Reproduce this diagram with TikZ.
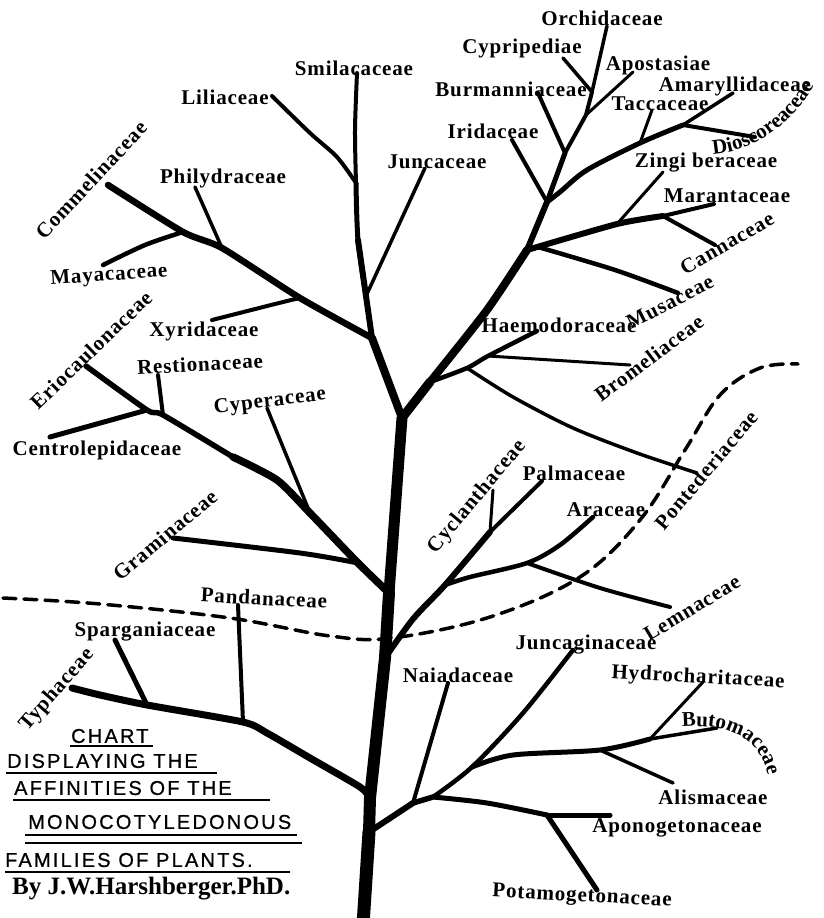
\documentclass[tikz,border=0pt]{standalone}
\usepackage{fontspec}
\setmainfont{Liberation Serif}
\newfontfamily\ttlfont[LetterSpace=11,FakeBold=0.8]{Liberation Sans}
\usetikzlibrary{decorations.text}
\tikzset{
  br/.style={line width=#1, line cap=round, line join=round},
  lbl/.style={font=\fontsize{21}{23}\selectfont\bfseries\addfontfeature{LetterSpace=4}, inner sep=0pt},
  ttl/.style={font=\ttlfont\fontsize{20}{22}\selectfont, inner sep=0pt, anchor=west},
  uline/.style={line width=2.5pt},
  divide/.style={line width=3.5pt, dash pattern=on 13pt off 8pt, line cap=round},
}
\begin{document}
\begin{tikzpicture}[x=1pt,y=-1pt]
\useasboundingbox (0,0) rectangle (824,918);
% ---------- coordinates ----------
% trunk
\coordinate (t0) at (363,925);
\coordinate (tA) at (369,832);
\coordinate (tB) at (370,798);
\coordinate (tC) at (385,658);
\coordinate (tD) at (389,593);
\coordinate (tE) at (402,418);
% upper left
\coordinate (L1) at (372,338);
\coordinate (L2) at (366,296);
\coordinate (L3) at (356,183);
\coordinate (Lend) at (357,73);
\coordinate (Jcend) at (425,168);
\coordinate (Liend) at (272,96);
% Commelinaceae group
\coordinate (C1) at (300,298);
\coordinate (C2) at (222,248);
\coordinate (C3) at (183,232);
\coordinate (Cend) at (108,185);
\coordinate (Xyend) at (212,320);
\coordinate (Phend) at (195,187);
\coordinate (Maend) at (103,265);
% right main
\coordinate (R1) at (430,382);
\coordinate (R2) at (487,310);
\coordinate (R3) at (527,250);
\coordinate (R4) at (547,202);
\coordinate (R5) at (565,153);
\coordinate (R6) at (586,115);
\coordinate (R7) at (592,92);
\coordinate (Rend) at (607,26);
\coordinate (Irend) at (512,140);
\coordinate (Buend) at (538,93);
\coordinate (Apend) at (633,72);
\coordinate (Cyend) at (563,58);
% Amaryllidaceae group
\coordinate (A0) at (560,192);
\coordinate (A1) at (640,143);
\coordinate (A2) at (683,125);
\coordinate (Aend) at (733,93);
\coordinate (Taend) at (652,110);
\coordinate (Diend) at (755,137);
% Marantaceae group
\coordinate (R3b) at (538,247);
\coordinate (Z1) at (617,224);
\coordinate (Z2) at (663,216);
\coordinate (Mend) at (714,204);
\coordinate (Ziend) at (663,172);
\coordinate (Caend) at (715,245);
\coordinate (Muend) at (678,293);
% Haemodoraceae group
\coordinate (H1) at (467,368);
\coordinate (H2) at (488,356);
\coordinate (Hend) at (537,331);
\coordinate (Brend) at (630,365);
\coordinate (Poend) at (697,473);
% Graminaceae group
\coordinate (G1) at (358,563);
\coordinate (G2) at (310,513);
\coordinate (G3) at (233,457);
\coordinate (G4) at (163,415);
\coordinate (G5) at (147,410);
\coordinate (Gend) at (86,366);
\coordinate (Grend) at (173,538);
\coordinate (Cpend) at (267,408);
\coordinate (Reend) at (158,375);
\coordinate (Ceend) at (50,437);
% Typhaceae group
\coordinate (T1) at (267,733);
\coordinate (T2) at (243,722);
\coordinate (T3) at (147,705);
\coordinate (Tend) at (72,688);
\coordinate (Paend) at (238,605);
\coordinate (Spend) at (115,640);
% Palmaceae group
\coordinate (P1) at (445,585);
\coordinate (P2) at (490,532);
\coordinate (Pend) at (542,481);
\coordinate (P3) at (527,563);
\coordinate (Arend) at (593,517);
\coordinate (Leend) at (670,607);
\coordinate (Cyclend) at (493,490);
% Naiadaceae group
\coordinate (N1) at (413,803);
\coordinate (N2) at (433,797);
\coordinate (J1) at (472,767);
\coordinate (J2) at (523,713);
\coordinate (Jend) at (573,650);
\coordinate (Naend) at (448,683);
\coordinate (B1) at (600,750);
\coordinate (B2) at (650,739);
\coordinate (Bend) at (717,728);
\coordinate (Alend) at (673,783);
\coordinate (Hyend) at (703,682);
\coordinate (Ap1) at (547,815);
\coordinate (Apgend) at (610,815);
\coordinate (Ptend) at (597,890);
% curved label paths
\coordinate (DiS) at (713,154);
\coordinate (DiE) at (822,70);
\coordinate (BuS) at (682,727);
\coordinate (BuE) at (769,786);
% ---------- dashed divide ----------
\draw[divide] plot[smooth, tension=0.6] coordinates {(3,598) (100,604) (230,618) (330,636) (392,638) (490,617) (580,577) (640,520) (685,450) (720,395) (760,368) (798,364)};
% ---------- trunk ----------
\draw[br=13] (t0) -- (tA);
\draw[br=12] (tA) -- (tB) -- (tC) -- (tD);
\draw[br=11] (tD) -- (tE);
% ---------- upper left ----------
\draw[br=8] (tE) -- (L1);
\draw[br=6] plot[smooth] coordinates {(L1) (L2) (358,240)};
\draw[br=5] plot[smooth] coordinates {(L2) (358,240) (L3)};
\draw[br=4] plot[smooth] coordinates {(L3) (355,130) (Lend)};
\draw[br=3.5] (L2) -- (Jcend);
\draw[br=4] plot[smooth] coordinates {(L3) (337,157) (310,133) (Liend)};
\draw[br=6.5] plot[smooth, tension=0.4] coordinates {(L1) (C1) (C2) (C3) (Cend)};
\draw[br=4] plot[smooth] coordinates {(C1) (283,302) (Xyend)};
\draw[br=3.5] (C2) -- (Phend);
\draw[br=4.5] plot[smooth] coordinates {(C3) (145,245) (Maend)};
% ---------- right main ----------
\draw[br=9] (tE) -- (R1);
\draw[br=8] plot[smooth, tension=0.4] coordinates {(R1) (R2) (R3)};
\draw[br=6] (R3) -- (R4);
\draw[br=5] (R4) -- (R5);
\draw[br=4] (R5) -- (R6) -- (R7);
\draw[br=3.5] (R7) -- (Rend);
\draw[br=4] (R4) -- (Irend);
\draw[br=4] (R5) -- (Buend);
\draw[br=3] (R6) -- (Apend);
\draw[br=3.5] (R7) -- (Cyend);
\draw[br=5] plot[smooth, tension=0.5] coordinates {(R4) (A0) (587,170) (A1) (A2)};
\draw[br=3.5] (A2) -- (Aend);
\draw[br=3] (A1) -- (Taend);
\draw[br=4] (A2) -- (Diend);
\draw[br=6] plot[smooth, tension=0.4] coordinates {(R3) (Z1) (Z2)};
\draw[br=4] (Z2) -- (Mend);
\draw[br=4.5] plot[smooth] coordinates {(R3b) (615,270) (Muend)};
\draw[br=3] (Z1) -- (Ziend);
\draw[br=4] (Z2) -- (Caend);
% Haemodoraceae group
\draw[br=4.5] plot[smooth] coordinates {(R1) (H1) (H2) (Hend)};
\draw[br=3] (H2) -- (Brend);
\draw[br=3.5] plot[smooth] coordinates {(H1) (513,397) (573,428) (637,453) (Poend)};
% ---------- Graminaceae group ----------
\draw[br=7.5] plot[smooth, tension=0.4] coordinates {(tD) (G1) (G2) (277,480) (G3)};
\draw[br=5.5] plot[smooth, tension=0.4] coordinates {(G3) (G4) (G5) (Gend)};
\draw[br=5] plot[smooth] coordinates {(G1) (300,553) (Grend)};
\draw[br=3.5] (G2) -- (Cpend);
\draw[br=4] (G4) -- (Reend);
\draw[br=5] (G5) -- (Ceend);
% ---------- Typhaceae group ----------
\draw[br=7] plot[smooth, tension=0.4] coordinates {(tB) (360,787) (310,758) (T1) (T2) (T3) (100,695) (Tend)};
\draw[br=4] (T2) -- (Paend);
\draw[br=5] (T3) -- (Spend);
% ---------- Palmaceae group ----------
\draw[br=6] plot[smooth, tension=0.5] coordinates {(tC) (413,619) (P1) (P2)};
\draw[br=4] (P2) -- (Pend);
\draw[br=3] (P2) -- (Cyclend);
\draw[br=4.5] plot[smooth] coordinates {(P1) (470,577) (P3) (560,545) (Arend)};
\draw[br=4] plot[smooth] coordinates {(P3) (600,588) (Leend)};
% ---------- Naiadaceae group ----------
\draw[br=6] (tA) -- (N1);
\draw[br=5.5] (N1) -- (N2);
\draw[br=4.5] plot[smooth] coordinates {(N2) (J1) (J2) (Jend)};
\draw[br=4] (N1) -- (Naend);
\draw[br=5] plot[smooth] coordinates {(J1) (513,755) (B1) (B2)};
\draw[br=3.5] (B2) -- (Bend);
\draw[br=3.5] (B1) -- (Alend);
\draw[br=3] (B2) -- (Hyend);
\draw[br=5] plot[smooth] coordinates {(N2) (487,803) (Ap1)};
\draw[br=5] (Ap1) -- (Apgend);
\draw[br=5] (Ap1) -- (Ptend);
% ---------- labels ----------
\node[lbl] (nOrch) at (602,18) {Orchidaceae};
\node[lbl] (nCypr) at (522,48) {Cypripediae};
\node[lbl] (nApos) at (658,65) {Apostasiae};
\node[lbl] (nBurm) at (511,89) {Burmanniaceae};
\node[lbl] (nAmar) at (735,86) {Amaryllidaceae};
\node[lbl] (nTacc) at (660,104) {Taccaceae};
\node[lbl] (nIrid) at (493,131) {Iridaceae};
\node[lbl] (nJunc) at (437,162) {Juncaceae};
\node[lbl] (nSmil) at (354,68) {Smilacaceae};
\node[lbl] (nLili) at (225,97) {Liliaceae};
\node[lbl, rotate=47] (nComm) at (91,180) {Commelinaceae};
\node[lbl] (nPhil) at (223,178) {Philydraceae};
\node[lbl, rotate=4] (nMaya) at (109,276) {Mayacaceae};
\node[lbl, rotate=44] (nErio) at (91,350) {Eriocaulonaceae};
\node[lbl] (nXyri) at (204,331) {Xyridaceae};
\node[lbl, rotate=3] (nRest) at (200,364) {Restionaceae};
\node[lbl] (nCent) at (97,450) {Centrolepidaceae};
\node[lbl, rotate=7] (nCype) at (270,402) {Cyperaceae};
\node[lbl, rotate=40] (nGram) at (165,535) {Graminaceae};
\node[lbl, rotate=-3] (nPand) at (264,598) {Pandanaceae};
\node[lbl] (nSpar) at (145,632) {Sparganiaceae};
\node[lbl, rotate=49] (nTyph) at (57,690) {Typhaceae};
\node[lbl] (nHaem) at (559,325) {Haemodoraceae};
\node[lbl, rotate=27] (nMusa) at (670,302) {Musaceae};
\node[lbl, rotate=30] (nCann) at (727,243) {Cannaceae};
\node[lbl] (nMara) at (727,196) {Marantaceae};
\node[lbl] (nZing) at (706,163) {Zingi beraceae};
\node[lbl, rotate=37] (nBrom) at (649,358) {Bromeliaceae};
\node[lbl, rotate=50] (nPont) at (706,470) {Pontederiaceae};
\node[lbl, rotate=50] (nCycl) at (477,497) {Cyclanthaceae};
\node[lbl] (nPalm) at (574,473) {Palmaceae};
\node[lbl] (nArac) at (606,510) {Araceae};
\node[lbl, rotate=31] (nLemn) at (692,608) {Lemnaceae};
\node[lbl] (nJncg) at (586,645) {Juncaginaceae};
\node[lbl] (nNaia) at (458,675) {Naiadaceae};
\node[lbl, rotate=-3] (nHydr) at (698,678) {Hydrocharitaceae};
\node[lbl] (nAlis) at (713,797) {Alismaceae};
\node[lbl] (nApon) at (677,828) {Aponogetonaceae};
\node[lbl, rotate=-3] (nPota) at (582,897) {Potamogetonaceae};
% curved labels
\path[decorate, decoration={text along path,
  text={|\fontsize{21}{23}\selectfont\bfseries|Dioscoreaceae}}]
  (DiS) .. controls (760,151) and (800,118) .. (DiE);
\path[decorate, decoration={text along path,
  text={|\fontsize{21}{23}\selectfont\bfseries|Butomaceae}}]
  (BuS) .. controls (732,723) and (766,740) .. (BuE);
% ---------- title block ----------
\node[ttl] (ti1) at (71,736) {CHART};
\node[ttl] (ti2) at (7,761) {DISPLAYING THE};
\node[ttl] (ti3) at (14,788) {AFFINITIES OF THE};
\node[ttl] (ti4) at (28,822) {MONOCOTYLEDONOUS};
\node[ttl] (ti5) at (5,860) {FAMILIES OF PLANTS.};
\node[inner sep=0pt, anchor=west, font=\fontsize{25}{27}\selectfont\bfseries] (ti6) at (12,889) {By J.W.Harshberger.PhD.};
\draw[uline] (70,746) -- (153,746);
\draw[uline] (6,773) -- (217,773);
\draw[uline] (13,800) -- (270,800);
\draw[uline] (25,835) -- (297,835);
\draw[uline] (25,843) -- (302,843);
\draw[uline] (5,872) -- (290,872);
\end{tikzpicture}
\end{document}
